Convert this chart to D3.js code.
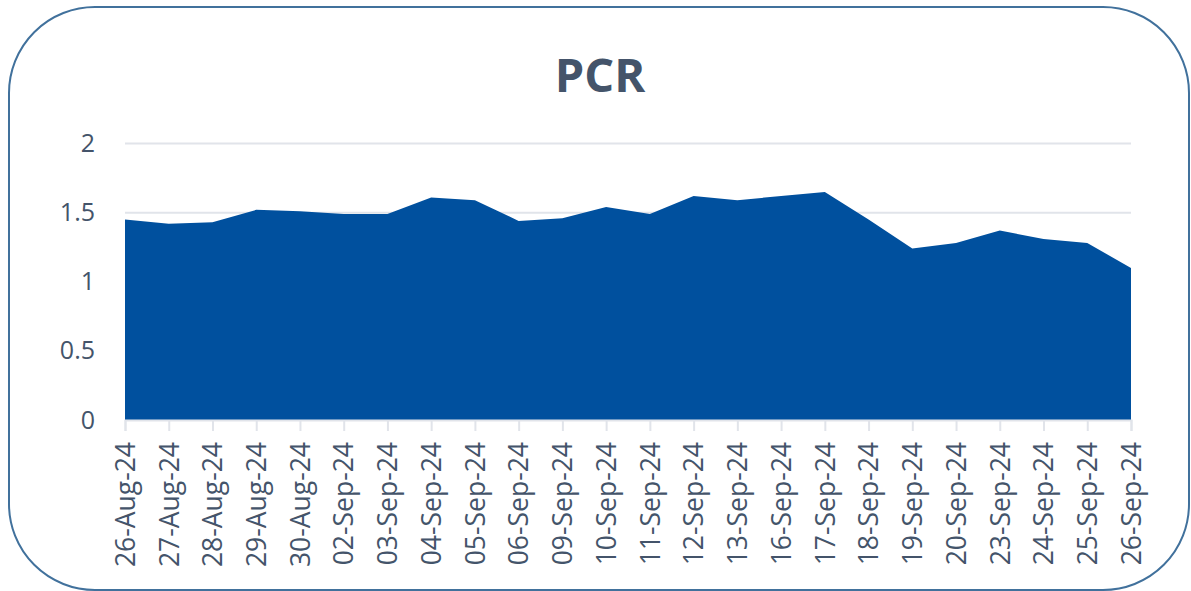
<!DOCTYPE html>
<html>
<head>
<meta charset="utf-8">
<script src="https://cdn.jsdelivr.net/npm/d3@7"></script>
<style>
  body { margin: 0; background: #fff; }
  svg { display: block; font-family: "Open Sans", sans-serif; }
</style>
</head>
<body>
<script>
// chart data
const dates = ["26-Aug-24", "27-Aug-24", "28-Aug-24", "29-Aug-24", "30-Aug-24", "02-Sep-24",
    "03-Sep-24", "04-Sep-24", "05-Sep-24", "06-Sep-24", "09-Sep-24", "10-Sep-24",
    "11-Sep-24", "12-Sep-24", "13-Sep-24", "16-Sep-24", "17-Sep-24", "18-Sep-24",
    "19-Sep-24", "20-Sep-24", "23-Sep-24", "24-Sep-24", "25-Sep-24", "26-Sep-24"];
const pcr = [1.45, 1.42, 1.43, 1.52, 1.51, 1.49,
    1.49, 1.61, 1.59, 1.44, 1.46, 1.54,
    1.49, 1.62, 1.59, 1.62, 1.65, 1.45,
    1.24, 1.28, 1.37, 1.31, 1.28, 1.10];
const yTicks = [0, 0.5, 1, 1.5, 2];

const width = 1191, height = 591;
const margin = {top: 143.5, right: 60, bottom: 171, left: 125};

const textColor = "#44546A";
const gridColor = "#E1E4EA";

const svg = d3.select("body").append("svg")
    .attr("width", width)
    .attr("height", height);

// rounded outer frame
svg.append("rect")
    .attr("x", 9).attr("y", 7)
    .attr("width", 1180).attr("height", 583)
    .attr("rx", 86).attr("ry", 86)
    .attr("fill", "#fff")
    .attr("stroke", "#41719C")
    .attr("stroke-width", 2);

// title
svg.append("text")
    .attr("x", 600).attr("y", 92)
    .attr("text-anchor", "middle")
    .attr("font-size", 47)
    .attr("font-weight", "bold")
    .attr("fill", textColor)
    .text("PCR");

const x = d3.scalePoint()
    .domain(dates)
    .range([margin.left, width - margin.right]);

const y = d3.scaleLinear()
    .domain([0, 2])
    .range([height - margin.bottom, margin.top]);

// gridlines
svg.append("g")
    .selectAll("line")
    .data(yTicks.filter(d => d > 0))
    .enter().append("line")
    .attr("x1", margin.left)
    .attr("x2", width - margin.right)
    .attr("y1", d => y(d))
    .attr("y2", d => y(d))
    .attr("stroke", gridColor)
    .attr("stroke-width", 2);

// area
const area = d3.area()
    .x((d, i) => x(dates[i]))
    .y0(y(0))
    .y1(d => y(d));

svg.append("path")
    .datum(pcr)
    .attr("d", area)
    .attr("fill", "#00509E");

// y axis
const yAxis = svg.append("g")
    .attr("transform", "translate(" + margin.left + ",0)")
    .call(d3.axisLeft(y).tickValues(yTicks).tickSize(0).tickPadding(30).tickFormat(d3.format("")));
yAxis.select(".domain").remove();
yAxis.selectAll("text")
    .attr("font-size", 25)
    .attr("font-family", "Open Sans, sans-serif")
    .attr("fill", textColor);

// x axis
const xAxis = svg.append("g")
    .attr("transform", "translate(0," + y(0) + ")")
    .call(d3.axisBottom(x).tickSize(11).tickPadding(0));
xAxis.select(".domain")
    .attr("stroke", gridColor)
    .attr("stroke-width", 2);
xAxis.selectAll(".tick line")
    .attr("stroke", gridColor)
    .attr("stroke-width", 2);
xAxis.selectAll("text")
    .attr("font-size", 26.5)
    .attr("font-family", "Open Sans, sans-serif")
    .attr("fill", textColor)
    .attr("text-anchor", "end")
    .attr("dy", "0.35em")
    .attr("transform", "translate(0,22) rotate(-90)")
    .attr("x", 0)
    .attr("y", 0);
</script>
</body>
</html>
